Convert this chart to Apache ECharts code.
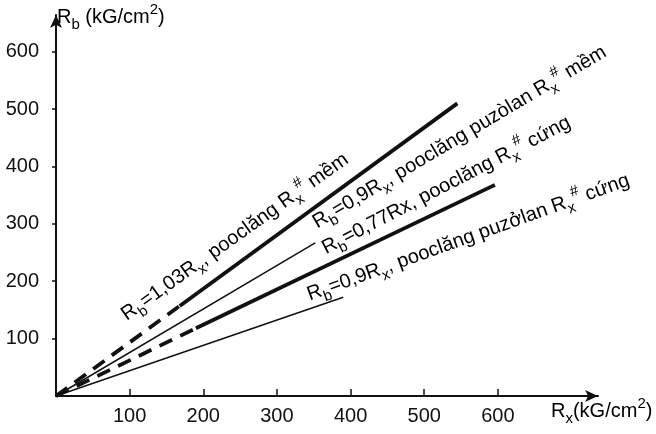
<!DOCTYPE html>
<html><head><meta charset="utf-8">
<script src="https://cdn.jsdelivr.net/npm/echarts@6/dist/echarts.min.js"></script>
<style>html,body{margin:0;padding:0;background:#fff}#c{width:656px;height:434px}</style>
</head><body><div id="c"></div>
<script>
// tick labels
const xTicks = [100, 200, 300, 400, 500, 600];
const yTicks = [100, 200, 300, 400, 500, 600];
// Rb = 1,03Rx, pooclăng mềm (dashed 0->idx1, solid idx1->idx2)
const lineA_rx = [0, 168, 545];
const lineA_rb = [0, 157, 510];
// Rb = 0,9Rx, pooclăng puzòlan mềm (thin solid)
const lineB_rx = [0, 352];
const lineB_rb = [0, 267];
// Rb = 0,77Rx, pooclăng cứng (dashed 0->idx1, solid idx1->idx2)
const lineC_rx = [0, 190, 596];
const lineC_rb = [0, 118, 368];
// Rb = 0,9Rx, pooclăng puzởlan cứng (thin solid)
const lineD_rx = [0, 390];
const lineD_rb = [0, 172];
// annotations
const labelTexts = [
  '{r|R}{s|b}{r|=1,03R}{s|x}{r|, pooclăng R}{s|x}{p|#}{r| mềm}',
  '{r|R}{s|b}{r|=0,9R}{s|x}{r|, pooclăng puzòlan R}{s|x}{p|#}{r| mềm}',
  '{r|R}{s|b}{r|=0,77Rx, pooclăng R}{s|x}{p|#}{r| cứng}',
  '{r|R}{s|b}{r|=0,9R}{s|x}{r|, pooclăng puzởlan R}{s|x}{p|#}{r| cứng}'
];
const labelAnchorRx = [243, 548, 530, 560];
const labelAnchorRb = [277, 451, 367, 276];
const labelAngles = [35.5, 30.8, 27.5, 19.8];

const FONT = "'Liberation Sans', Arial, sans-serif";
const INK = '#111';

function pairs(xs, ys, i0, i1) {
  const out = [];
  for (let i = i0; i <= i1; i++) out.push([xs[i], ys[i]]);
  return out;
}
function lineSeries(data, width, dashed) {
  return {
    type: 'line', data: data, showSymbol: false, symbol: 'none', silent: true,
    animation: false,
    lineStyle: { color: INK, width: width, type: dashed ? [14, 9] : 'solid', cap: 'butt' }
  };
}

const rich = {
  r: { fontSize: 20, fontFamily: FONT, color: INK, lineHeight: 30, verticalAlign: 'middle' },
  s: { fontSize: 15, fontFamily: FONT, color: INK, lineHeight: 15, verticalAlign: 'bottom' },
  p: { fontSize: 15, fontFamily: FONT, color: INK, lineHeight: 15, verticalAlign: 'top' }
};

const chart = echarts.init(document.getElementById('c'), null, { renderer: 'canvas' });
chart.setOption({
  animation: false,
  backgroundColor: '#fff',
  grid: { left: 56, right: 58, top: 15, bottom: 38 },
  xAxis: {
    type: 'value', min: 0, max: 736, interval: 100,
    splitLine: { show: false },
    axisLine: { lineStyle: { color: INK, width: 2 }, symbol: ['none', 'arrow'], symbolSize: [9, 13] },
    axisTick: { inside: true, length: 7, customValues: xTicks, lineStyle: { color: INK, width: 1.5 } },
    axisLabel: { customValues: xTicks, margin: 10, fontSize: 20, fontFamily: FONT, color: INK }
  },
  yAxis: {
    type: 'value', min: 0, max: 664, interval: 100,
    splitLine: { show: false },
    axisLine: { lineStyle: { color: INK, width: 2 }, symbol: ['none', 'arrow'], symbolSize: [9, 13] },
    axisTick: { inside: false, length: 4, customValues: yTicks, lineStyle: { color: INK, width: 1.5 } },
    axisLabel: { customValues: yTicks, margin: 17, fontSize: 20, fontFamily: FONT, color: INK }
  },
  series: [
    lineSeries(pairs(lineA_rx, lineA_rb, 0, 1), 3.8, true),
    lineSeries(pairs(lineA_rx, lineA_rb, 1, 2), 3.8, false),
    lineSeries(pairs(lineB_rx, lineB_rb, 0, 1), 1.5, false),
    lineSeries(pairs(lineC_rx, lineC_rb, 0, 1), 3.8, true),
    lineSeries(pairs(lineC_rx, lineC_rb, 1, 2), 3.8, false),
    lineSeries(pairs(lineD_rx, lineD_rb, 0, 1), 1.5, false)
  ]
});

const graphics = [
  { type: 'text', left: 57, top: 2, silent: true,
    style: { text: '{r|R}{s|b}{r| (kG/cm}{p|2}{r|)}', rich: rich } },
  { type: 'text', left: 551, top: 396, silent: true,
    style: { text: '{r|R}{s|x}{r|(kG/cm}{p|2}{r|)}', rich: rich } }
];
for (let i = 0; i < labelTexts.length; i++) {
  const p = chart.convertToPixel({ gridIndex: 0 }, [labelAnchorRx[i], labelAnchorRb[i]]);
  graphics.push({
    type: 'text', x: p[0], y: p[1], rotation: labelAngles[i] * Math.PI / 180, silent: true,
    style: { text: labelTexts[i], rich: rich, align: 'center', verticalAlign: 'middle' }
  });
}
chart.setOption({ graphic: graphics });
</script>
</body></html>
